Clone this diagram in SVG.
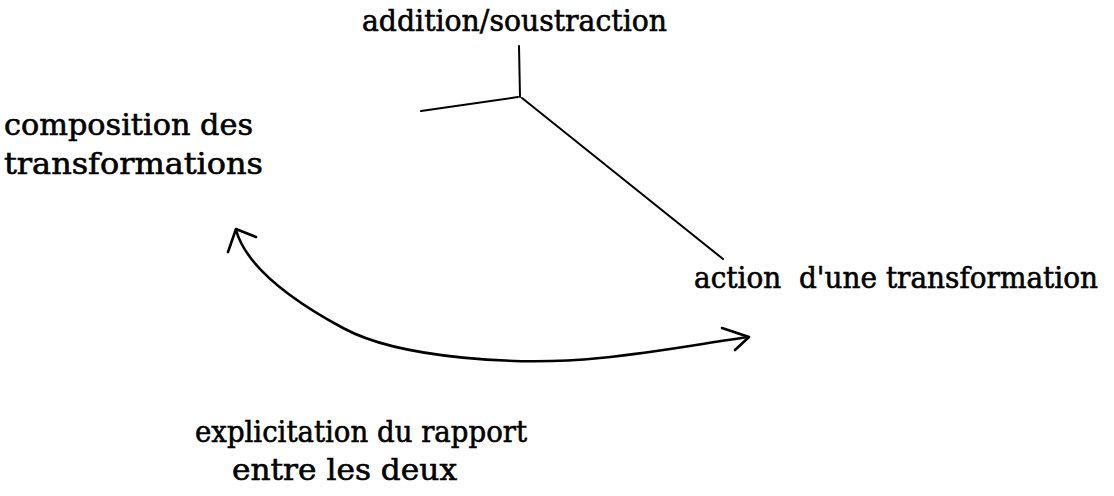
<svg xmlns="http://www.w3.org/2000/svg" width="1114" height="496" viewBox="0 0 1114 496">
<style>
.t{font-family:"DejaVu Serif","Liberation Serif",serif;font-size:29px;fill:#000;stroke:#000;stroke-width:0.6}
.ln{stroke:#000;stroke-width:2;fill:none;stroke-linecap:round;stroke-linejoin:round}
.arr{stroke:#000;stroke-width:2.6;fill:none;stroke-linecap:round;stroke-linejoin:round}
</style>
<rect width="1114" height="496" fill="#fff"/>
<g id="connectors">
<line class="ln" x1="519" y1="46" x2="520" y2="97"/>
<path class="ln" d="M421,111 L518,97" stroke-width="3"/>
<line class="ln" x1="522" y1="98" x2="723" y2="259"/>
<path class="arr" d="M236,230 C245,262 280,294 343,328 C400,359 520,366 600,358 C660,352 705,343 748,337"/>
<polyline class="arr" points="228,252 236,229 256,237"/>
<polyline class="arr" points="722,328 749,337 735,350"/>
</g>
<g id="n-addition"><text class="t" x="362" y="31" textLength="305" lengthAdjust="spacingAndGlyphs">addition/soustraction</text></g>
<g id="n-composition"><text class="t" x="4" y="135" textLength="249" lengthAdjust="spacingAndGlyphs">composition des</text><text class="t" x="4" y="174" textLength="259" lengthAdjust="spacingAndGlyphs">transformations</text></g>
<g id="n-action"><text class="t" x="694" y="288" textLength="404" lengthAdjust="spacingAndGlyphs" xml:space="preserve">action  d'une transformation</text></g>
<g id="n-explicitation"><text class="t" x="195" y="442" textLength="332" lengthAdjust="spacingAndGlyphs">explicitation du rapport</text><text class="t" x="232" y="480" textLength="225" lengthAdjust="spacingAndGlyphs">entre les deux</text></g>
</svg>
